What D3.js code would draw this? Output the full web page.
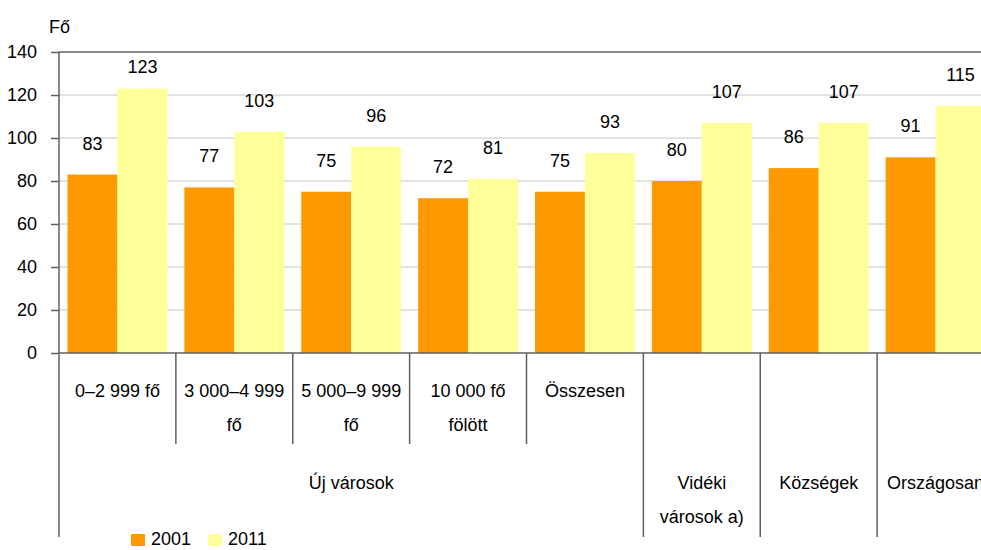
<!DOCTYPE html>
<html>
<head>
<meta charset="utf-8">
<script src="https://cdn.jsdelivr.net/npm/d3@7"></script>
<style>
    body { margin: 0; background: #fff; }
    svg { display: block; font-family: 'Liberation Sans', Arial, sans-serif; }
</style>
</head>
<body>
<div id="chart"></div>
<script>
// Adatok
const categories = ['0–2 999 fő', '3 000–4 999 fő', '5 000–9 999 fő', '10 000 fő fölött', 'Összesen', 'Vidéki városok a)', 'Községek', 'Országosan'];
const categoryLines = [['0–2 999 fő'], ['3 000–4 999', 'fő'], ['5 000–9 999', 'fő'], ['10 000 fő', 'fölött'], ['Összesen'], ['Vidéki', 'városok a)'], ['Községek'], ['Országosan']];
const categoryGroups = ['Új városok', 'Új városok', 'Új városok', 'Új városok', 'Új városok', null, null, null];
const seriesNames = ['2001', '2011'];
const values2001 = [83, 77, 75, 72, 75, 80, 86, 91];
const values2011 = [123, 103, 96, 81, 93, 107, 107, 115];
const yTicks = [0, 20, 40, 60, 80, 100, 120, 140];
const unitLabel = 'Fő';

const colors = {'2001': '#FF9900', '2011': '#FFFF99'};
const axisColor = '#5f5f5f';

function createChart() {
    const margin = {top: 52, left: 59};
    const width = 935;
    const height = 301;

    const svg = d3.select('#chart')
        .append('svg')
        .attr('width', 981)
        .attr('height', 550);

    const g = svg.append('g')
        .attr('transform', `translate(${margin.left},${margin.top})`);

    // Skálák
    const x = d3.scaleBand()
        .domain(categories)
        .range([0, width]);

    const xInner = d3.scaleBand()
        .domain(seriesNames)
        .range([0, x.bandwidth()])
        .paddingOuter(0.17);

    const y = d3.scaleLinear()
        .domain([0, 140])
        .range([height, 0]);

    // Rácsvonalak
    g.append('g')
        .selectAll('line')
        .data(yTicks.filter(d => d > 0 && d < 140))
        .enter()
        .append('line')
        .attr('x1', 0)
        .attr('x2', width)
        .attr('y1', d => y(d))
        .attr('y2', d => y(d))
        .attr('stroke', '#d9d9d9')
        .attr('stroke-width', 1.5);

    // Oszlopok
    const rows = categories.map((c, i) => ({cat: c, i: i, values: [values2001[i], values2011[i]]}));

    const groups = g.selectAll('.cat')
        .data(rows)
        .enter()
        .append('g')
        .attr('class', 'cat')
        .attr('transform', d => `translate(${x(d.cat)},0)`);

    groups.selectAll('rect')
        .data(d => d.values.map((v, k) => ({series: seriesNames[k], value: v})))
        .enter()
        .append('rect')
        .attr('x', d => xInner(d.series))
        .attr('width', xInner.bandwidth())
        .attr('y', d => y(d.value))
        .attr('height', d => height - y(d.value))
        .attr('fill', d => colors[d.series]);

    // Adatfeliratok
    groups.selectAll('text.value')
        .data(d => d.values.map((v, k) => ({series: seriesNames[k], value: v})))
        .enter()
        .append('text')
        .attr('class', 'value')
        .attr('x', d => xInner(d.series) + xInner.bandwidth() / 2)
        .attr('y', d => Math.max(y(d.value) - 25, 21))
        .attr('text-anchor', 'middle')
        .attr('fill', '#000')
        .style('font-size', '18px')
        .text(d => d.value);

    // Y tengely
    g.append('g')
        .call(d3.axisLeft(y)
            .tickValues(yTicks)
            .tickSize(8)
            .tickPadding(14))
        .call(a => a.select('.domain').remove())
        .call(a => a.selectAll('line').attr('stroke', axisColor).attr('stroke-width', 1.5))
        .call(a => a.selectAll('text')
            .attr('fill', '#000')
            .style('font-size', '18px')
            .style('font-family', "'Liberation Sans', Arial, sans-serif"));

    // Felső és alsó vonal
    [140, 0].forEach(v => {
        g.append('line')
            .attr('x1', 0)
            .attr('x2', width)
            .attr('y1', y(v))
            .attr('y2', y(v))
            .attr('stroke', axisColor)
            .attr('stroke-width', 1.5);
    });

    // Kategória elválasztók
    const boundaries = d3.range(categories.length + 1).map(i => {
        const left = categoryGroups[i - 1];
        const right = categoryGroups[i];
        const short = i > 0 && i < categories.length && left && left === right;
        return {x: i < categories.length ? x(categories[i]) : width, short: short};
    });

    g.selectAll('line.sep')
        .data(boundaries)
        .enter()
        .append('line')
        .attr('class', 'sep')
        .attr('x1', d => d.x)
        .attr('x2', d => d.x)
        .attr('y1', d => d.x === 0 ? 0 : height)
        .attr('y2', d => d.short ? 392 : 485)
        .attr('stroke', axisColor)
        .attr('stroke-width', 1.5);

    // Kategória feliratok
    rows.forEach(d => {
        const cx = x(d.cat) + x.bandwidth() / 2;
        const base = categoryGroups[d.i] ? 345 : 437;
        categoryLines[d.i].forEach((line, k) => {
            g.append('text')
                .attr('x', cx)
                .attr('y', base + k * 34)
                .attr('text-anchor', 'middle')
                .attr('fill', '#000')
                .style('font-size', '18px')
                .text(line);
        });
    });

    // Csoport feliratok
    const groupNames = [...new Set(categoryGroups.filter(d => d))];
    groupNames.forEach(name => {
        const members = categories.filter((c, i) => categoryGroups[i] === name);
        const x0 = x(members[0]);
        const x1 = x(members[members.length - 1]) + x.bandwidth();
        g.append('text')
            .attr('x', (x0 + x1) / 2)
            .attr('y', 437)
            .attr('text-anchor', 'middle')
            .attr('fill', '#000')
            .style('font-size', '18px')
            .text(name);
    });

    // Mértékegység
    svg.append('text')
        .attr('x', 49)
        .attr('y', 33)
        .attr('fill', '#000')
        .style('font-size', '18px')
        .text(unitLabel);

    // Jelmagyarázat
    const legend = svg.append('g')
        .attr('transform', 'translate(131, 534)');

    seriesNames.forEach((name, i) => {
        const row = legend.append('g')
            .attr('transform', `translate(${i * 77}, 0)`);

        row.append('rect')
            .attr('width', 14)
            .attr('height', 12)
            .attr('fill', colors[name]);

        row.append('text')
            .attr('x', 20)
            .attr('y', 11)
            .attr('fill', '#000')
            .style('font-size', '18px')
            .text(name);
    });
}

createChart();
</script>
</body>
</html>
